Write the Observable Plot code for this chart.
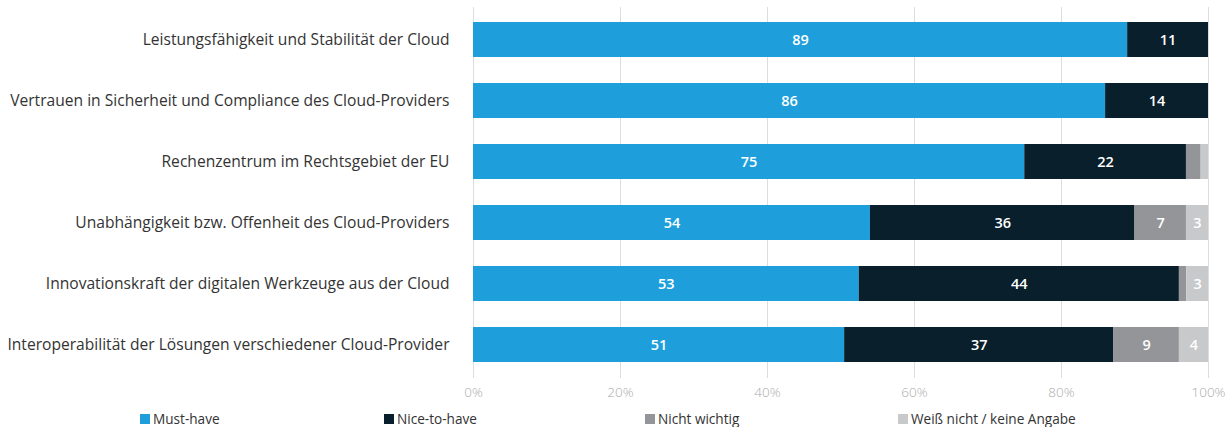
<!DOCTYPE html>
<html>
<head>
<meta charset="utf-8">
<script src="https://cdn.jsdelivr.net/npm/d3@7"></script>
<script src="https://cdn.jsdelivr.net/npm/@observablehq/plot@0.6"></script>
<style>
  html, body { margin: 0; padding: 0; background: #fff; }
  #chart { width: 1230px; }
  .legend { position: relative; height: 24px; margin-top: 6px; font-family: "Open Sans", sans-serif; font-size: 13.6px; color: #333; }
  .legend .item { position: absolute; top: 0; display: flex; align-items: center; white-space: nowrap; }
  .legend .sw { width: 10px; height: 10px; margin-right: 3px; }
</style>
</head>
<body>
<div id="chart"></div>
<script>
const categories = [
  "Leistungsfähigkeit und Stabilität der Cloud",
  "Vertrauen in Sicherheit und Compliance des Cloud-Providers",
  "Rechenzentrum im Rechtsgebiet der EU",
  "Unabhängigkeit bzw. Offenheit des Cloud-Providers",
  "Innovationskraft der digitalen Werkzeuge aus der Cloud",
  "Interoperabilität der Lösungen verschiedener Cloud-Provider"
];
const series = ["Must-have", "Nice-to-have", "Nicht wichtig", "Weiß nicht / keine Angabe"];
const mustHave     = [89, 86, 75, 54, 53, 51];
const niceToHave   = [11, 14, 22, 36, 44, 37];
const nichtWichtig = [0, 0, 2, 7, 1, 9];
const weissNicht   = [0, 0, 1, 3, 3, 4];
const colors = ["#1e9fdb", "#0a1f2c", "#939598", "#c8c9cb"];
const xTicks = [0, 20, 40, 60, 80, 100];
const legendX = [140, 384, 645, 898];

const seriesValues = [mustHave, niceToHave, nichtWichtig, weissNicht];
const data = [];
categories.forEach((c, i) => {
  series.forEach((s, j) => {
    data.push({category: c, series: s, value: seriesValues[j][i]});
  });
});

const stackOpts = {x: "value", y: "category", z: "series", order: series, offset: "normalize"};
const tickPos = xTicks.map(d => d / 100);

const chart = Plot.plot({
  width: 1230,
  height: 403,
  marginLeft: 473,
  marginRight: 22,
  marginTop: 7,
  marginBottom: 25,
  style: {fontFamily: "'Open Sans', sans-serif", background: "#fff"},
  x: {domain: [0, 1], label: null},
  y: {domain: categories, label: null, paddingInner: 0.42, paddingOuter: 0.24},
  color: {domain: series, range: colors},
  marks: [
    Plot.gridX(tickPos, {stroke: "#ddd", strokeOpacity: 1, strokeWidth: 1}),
    Plot.axisX({ticks: tickPos, tickFormat: d => Math.round(d * 100) + "%", tickSize: 0, tickPadding: 9, fill: "#aaa", fontSize: 13.5, fontWeight: 300, label: null}),
    Plot.axisY({tickSize: 0, tickPadding: 24, fill: "#333", fontSize: 15.6, label: null}),
    Plot.barX(data, Plot.stackX({...stackOpts, fill: "series"})),
    Plot.text(data, Plot.stackX({...stackOpts, text: d => d.value >= 3 ? String(d.value) : "", fill: "#fff", fontSize: 14.5, fontWeight: 600}))
  ]
});
document.getElementById("chart").appendChild(chart);

const legend = document.createElement("div");
legend.className = "legend";
series.forEach((s, i) => {
  const item = document.createElement("div");
  item.className = "item";
  item.style.left = legendX[i] + "px";
  const sw = document.createElement("span");
  sw.className = "sw";
  sw.style.background = colors[i];
  const t = document.createElement("span");
  t.textContent = s;
  item.appendChild(sw);
  item.appendChild(t);
  legend.appendChild(item);
});
document.getElementById("chart").appendChild(legend);
</script>
</body>
</html>
